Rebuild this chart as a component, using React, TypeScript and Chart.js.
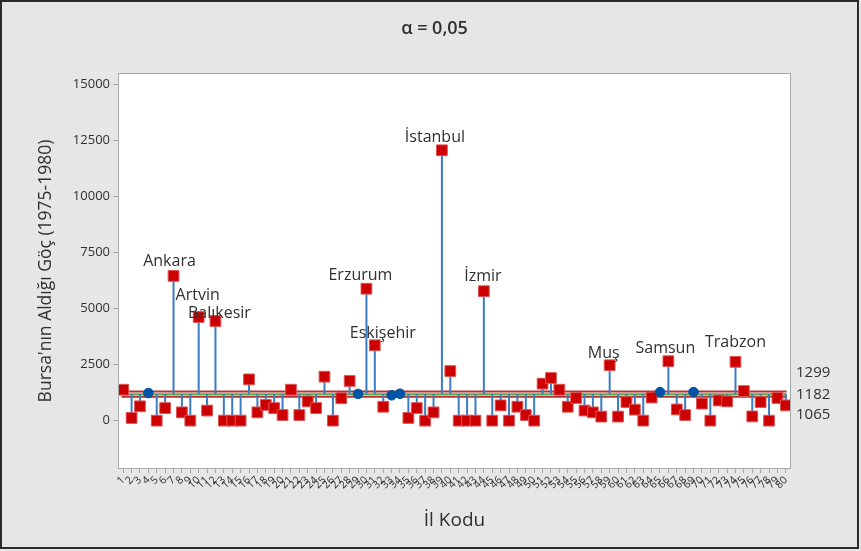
import { useEffect, useRef } from "react";
import { Chart, registerables } from "chart.js";

Chart.register(...registerables);

// Tick labels (İl Kodu)
const ilKodlari: string[] = [
  "1","2","3","4","5","6","7","8","9","10",
  "11","12","13","14","15","16","17","18","19","20",
  "21","22","23","24","25","26","27","28","29","30",
  "31","32","33","34","35","36","37","38","39","40",
  "41","42","43","44","45","46","47","48","49","50",
  "51","52","53","54","55","56","57","58","59","60",
  "61","62","63","64","65","66","67","68","69","70",
  "71","72","73","74","75","76","77","78","79","80",
];

// Migration to Bursa (1975-1980) per province, in chart order
const gocDegerleri: number[] = [
  1380, 120, 640, 1230, 0, 560, 6450, 370, 0, 4620,
  450, 4440, 0, 0, 0, 1840, 370, 700, 560, 250,
  1380, 250, 860, 560, 1960, 0, 1000, 1770, 1190, 5880,
  3360, 620, 1130, 1200, 120, 560, 0, 370, 12050, 2210,
  0, 0, 0, 5770, 0, 680, 0, 620, 250, 0,
  1650, 1900, 1380, 620, 1010, 450, 370, 180, 2470, 180,
  830, 490, 0, 1030, 1270, 2650, 500, 250, 1270, 760,
  0, 900, 860, 2620, 1320, 190, 830, 0, 1010, 680,
];

const merkezCizgisi = 1182;
const ustSinir = 1299;
const altSinir = 1065;

const baslik = "α = 0,05";

// Labelled provinces (position in chart order) and names
const etiketSiralari: number[] = [7, 10, 12, 30, 31, 39, 44, 59, 66, 74];
const etiketAdlari: string[] = [
  "Ankara", "Artvin", "Balıkesir", "Erzurum", "Eskişehir",
  "İstanbul", "İzmir", "Muş", "Samsun", "Trabzon",
];

// label placement (style only): pixel offsets from the marker
const etiketKaydirma: [number, number][] = [
  [-4, -14], [-1, -22], [4, -8], [-6, -13], [8, -12],
  [-7, -13], [-1, -15], [-6, -12], [-3, -13], [0, -19],
];

const FONT = "'Open Sans', 'Noto Sans', sans-serif";
const TEXT = "#303030";

export default function App() {
  const ref = useRef<HTMLCanvasElement | null>(null);

  useEffect(() => {
    if (!ref.current) return;

    const stemData: { x: number; y: number | null }[] = [];
    gocDegerleri.forEach((v, i) => {
      stemData.push({ x: i + 1, y: merkezCizgisi });
      stemData.push({ x: i + 1, y: v });
      stemData.push({ x: i + 1, y: null });
    });
    const pointData = gocDegerleri.map((v, i) => ({ x: i + 1, y: v }));
    const out = (v: number) => v > ustSinir || v < altSinir;
    const lineSpan = (y: number) => [
      { x: 0.8, y },
      { x: ilKodlari.length + 0.1, y },
    ];

    const bgPlugin = {
      id: "bg",
      beforeDraw(chart: any) {
        const { ctx, chartArea: a, width, height } = chart;
        ctx.save();
        ctx.fillStyle = "#e6e6e6";
        ctx.fillRect(0, 0, width, height);
        ctx.lineWidth = 2;
        ctx.strokeStyle = "#2b2b2b";
        ctx.strokeRect(1, 1, width - 4, height - 4);
        ctx.fillStyle = "#ffffff";
        ctx.fillRect(a.left, a.top, a.right - a.left, a.bottom - a.top);
        // title
        ctx.fillStyle = TEXT;
        ctx.font = `600 18px ${FONT}`;
        ctx.textAlign = "center";
        ctx.textBaseline = "middle";
        ctx.fillText(baslik, width / 2 + 4, 29);
        ctx.restore();
      },
      afterDraw(chart: any) {
        const { ctx, chartArea: a, scales } = chart;
        ctx.save();
        ctx.strokeStyle = "#a8a8a8";
        ctx.lineWidth = 1;
        ctx.strokeRect(a.left - 0.5, a.top - 0.5, a.right - a.left + 1, a.bottom - a.top + 1);
        // limit labels at right
        const yC = scales.y.getPixelForValue(merkezCizgisi);
        ctx.fillStyle = TEXT;
        ctx.font = `15px ${FONT}`;
        ctx.textAlign = "left";
        ctx.textBaseline = "middle";
        ctx.fillText(String(ustSinir), a.right + 6, yC - 21);
        ctx.fillText(String(merkezCizgisi), a.right + 6, yC + 1);
        ctx.fillText(String(altSinir), a.right + 6, yC + 21);
        // point labels
        ctx.font = `16px ${FONT}`;
        ctx.textAlign = "center";
        etiketSiralari.forEach((idx, k) => {
          const px = scales.x.getPixelForValue(idx);
          const py = scales.y.getPixelForValue(gocDegerleri[idx - 1]);
          const [dx, dy] = etiketKaydirma[k];
          ctx.fillText(etiketAdlari[k], px + dx, py + dy);
        });
        ctx.restore();
      },
    };

    const chart = new Chart(ref.current, {
      type: "scatter",
      data: {
        datasets: [
          {
            type: "line",
            data: pointData,
            pointStyle: (c: any) => (out(c.raw?.y ?? 0) ? "rect" : "circle"),
            pointRadius: (c: any) => (out(c.raw?.y ?? 0) ? 7.6 : 4.8),
            pointBackgroundColor: (c: any) => (out(c.raw?.y ?? 0) ? "#cc0000" : "#0054a6"),
            pointBorderColor: (c: any) => (out(c.raw?.y ?? 0) ? "#e05252" : "#0054a6"),
            pointBorderWidth: 1,
            showLine: false,
            order: 0,
          } as any,
          {
            type: "line",
            data: stemData,
            borderColor: "#3a7dc6",
            borderWidth: 2,
            pointRadius: 0,
            spanGaps: false,
            order: 1,
          } as any,
          {
            type: "line",
            data: lineSpan(merkezCizgisi),
            borderColor: "#4caf50",
            borderWidth: 2,
            pointRadius: 0,
            order: 2,
          } as any,
          {
            type: "line",
            data: lineSpan(ustSinir),
            borderColor: "#b83232",
            borderWidth: 2,
            pointRadius: 0,
            order: 2,
          } as any,
          {
            type: "line",
            data: lineSpan(altSinir),
            borderColor: "#b83232",
            borderWidth: 2,
            pointRadius: 0,
            order: 2,
          } as any,
        ],
      },
      options: {
        animation: false,
        responsive: false,
        maintainAspectRatio: false,
        layout: { padding: { left: 0, right: 71, top: 74, bottom: 0 } },
        plugins: {
          legend: { display: false },
          tooltip: { enabled: false },
          title: { display: false },
        },
        scales: {
          x: {
            type: "linear",
            min: 0.5,
            max: ilKodlari.length + 0.5,
            offset: false,
            afterBuildTicks: (s: any) => {
              s.ticks = ilKodlari.map((_, i) => ({ value: i + 1 }));
            },
            afterFit: (s: any) => {
              s.height = 83;
              s.paddingLeft = 0;
              s.paddingRight = 0;
            },
            ticks: {
              autoSkip: false,
              minRotation: 45,
              maxRotation: 45,
              padding: 1,
              color: TEXT,
              font: { family: FONT, size: 10.5 },
              callback: (v: any) => ilKodlari[Math.round(v) - 1] ?? "",
            },
            grid: {
              display: true,
              drawOnChartArea: false,
              drawTicks: true,
              tickLength: 5,
              color: "#a8a8a8",
            },
            border: { display: false },
            title: {
              display: true,
              text: "İl Kodu",
              color: TEXT,
              font: { family: FONT, size: 19, lineHeight: 1.2 },
              padding: { top: 0, bottom: 19 },
            },
          },
          y: {
            type: "linear",
            min: -2110,
            max: 15450,
            afterBuildTicks: (s: any) => {
              s.ticks = [0, 2500, 5000, 7500, 10000, 12500, 15000].map((v) => ({ value: v }));
            },
            afterFit: (s: any) => {
              s.width = 119;
              s.paddingTop = 0;
              s.paddingBottom = 0;
            },
            ticks: {
              padding: 3,
              color: TEXT,
              font: { family: FONT, size: 13 },
              callback: (v: any) => String(v),
            },
            grid: {
              display: true,
              drawOnChartArea: false,
              drawTicks: true,
              tickLength: 6,
              color: "#a8a8a8",
            },
            border: { display: false },
            title: {
              display: true,
              text: "Bursa'nın Aldığı Göç (1975-1980)",
              color: TEXT,
              font: { family: FONT, size: 17.5, lineHeight: 1.2 },
              padding: { top: 36, bottom: 0 },
            },
          },
        },
      } as any,
      plugins: [bgPlugin],
    });

    return () => chart.destroy();
  }, []);

  return (
    <div style={{ position: "fixed", left: 0, top: 0, width: 861, height: 551 }}>
      <canvas ref={ref} width={861} height={551} style={{ width: 861, height: 551 }} />
    </div>
  );
}
